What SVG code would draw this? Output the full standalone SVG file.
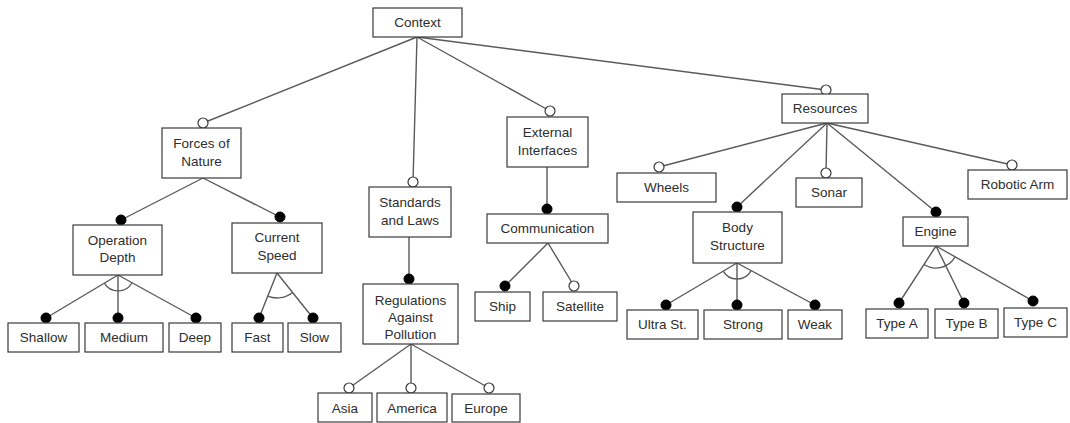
<svg xmlns="http://www.w3.org/2000/svg" width="1070" height="423" viewBox="0 0 1070 423">
  <style>
    .box { fill: #ffffff; stroke: #3a3a3a; stroke-width: 1.2; }
    .lbl { font-family: "Liberation Sans", Arial, sans-serif; font-size: 13.5px; fill: #2e2e2e; text-anchor: middle; }
    .edge { stroke: #5a5a5a; stroke-width: 1.4; fill: none; }
    .arc { stroke: #5a5a5a; stroke-width: 1.3; fill: none; }
    .opt { fill: #ffffff; stroke: #3a3a3a; stroke-width: 1.2; }
    .man { fill: #000000; stroke: #000000; stroke-width: 1; }
  </style>
  <rect width="1070" height="423" fill="#ffffff"/>

  <!-- connectors -->
  <g id="connectors">
    <line class="edge" x1="417" y1="37" x2="203" y2="123"/>
    <line class="edge" x1="417" y1="37" x2="413" y2="182"/>
    <line class="edge" x1="417" y1="37" x2="550" y2="111"/>
    <line class="edge" x1="417" y1="37" x2="826" y2="90"/>

    <line class="edge" x1="203" y1="178" x2="121" y2="220"/>
    <line class="edge" x1="203" y1="178" x2="280" y2="217"/>

    <line class="edge" x1="118" y1="275" x2="46" y2="318"/>
    <line class="edge" x1="118" y1="275" x2="118" y2="318"/>
    <line class="edge" x1="118" y1="275" x2="196" y2="318"/>
    <path class="arc" d="M104.3,283.2 A16,16 0 0 0 132.0,282.7"/>

    <line class="edge" x1="277" y1="273" x2="259" y2="318"/>
    <line class="edge" x1="277" y1="273" x2="313" y2="318"/>
    <path class="arc" d="M267.7,296.2 A25,25 0 0 0 292.6,292.5"/>

    <line class="edge" x1="409" y1="237" x2="409" y2="279"/>
    <line class="edge" x1="411" y1="344" x2="349" y2="388"/>
    <line class="edge" x1="411" y1="344" x2="411" y2="388"/>
    <line class="edge" x1="411" y1="344" x2="489" y2="388"/>

    <line class="edge" x1="547" y1="167" x2="547" y2="209"/>
    <line class="edge" x1="548" y1="243" x2="505" y2="286"/>
    <line class="edge" x1="548" y1="243" x2="574" y2="286"/>

    <line class="edge" x1="827" y1="123" x2="659" y2="167"/>
    <line class="edge" x1="827" y1="123" x2="737" y2="207"/>
    <line class="edge" x1="827" y1="123" x2="826" y2="173"/>
    <line class="edge" x1="827" y1="123" x2="936" y2="212"/>
    <line class="edge" x1="827" y1="123" x2="1012" y2="165"/>

    <line class="edge" x1="737" y1="263" x2="666" y2="305"/>
    <line class="edge" x1="737" y1="263" x2="737" y2="305"/>
    <line class="edge" x1="737" y1="263" x2="815" y2="305"/>
    <path class="arc" d="M723.2,271.1 A16,16 0 0 0 751.1,270.6"/>

    <line class="edge" x1="936" y1="246" x2="899" y2="303"/>
    <line class="edge" x1="936" y1="246" x2="964" y2="303"/>
    <line class="edge" x1="936" y1="246" x2="1033" y2="301"/>
    <path class="arc" d="M924.0,264.5 A22,22 0 0 0 955.1,256.9"/>
  </g>

  <!-- root -->
  <g id="context">
    <rect class="box" x="373" y="8" width="89" height="29"/>
    <text class="lbl" x="417.5" y="27">Context</text>
  </g>

  <!-- Forces of Nature branch -->
  <g id="forces-of-nature">
    <circle class="opt" cx="203" cy="123" r="5"/>
    <rect class="box" x="162" y="128" width="79" height="50"/>
    <text class="lbl" x="201.5" y="148">Forces of</text>
    <text class="lbl" x="201.5" y="166">Nature</text>
  </g>
  <g id="operation-depth">
    <circle class="man" cx="121" cy="220" r="5"/>
    <rect class="box" x="73" y="225" width="89" height="50"/>
    <text class="lbl" x="117.5" y="244.5">Operation</text>
    <text class="lbl" x="117.5" y="262">Depth</text>
  </g>
  <g id="current-speed">
    <circle class="man" cx="280" cy="217" r="5"/>
    <rect class="box" x="232" y="223" width="90" height="50"/>
    <text class="lbl" x="277" y="242">Current</text>
    <text class="lbl" x="277" y="260">Speed</text>
  </g>
  <g id="shallow">
    <circle class="man" cx="46" cy="318" r="5"/>
    <rect class="box" x="8" y="323" width="71" height="29"/>
    <text class="lbl" x="43.5" y="342">Shallow</text>
  </g>
  <g id="medium">
    <circle class="man" cx="118" cy="318" r="5"/>
    <rect class="box" x="85" y="323" width="78" height="29"/>
    <text class="lbl" x="124" y="342">Medium</text>
  </g>
  <g id="deep">
    <circle class="man" cx="196" cy="318" r="5"/>
    <rect class="box" x="169" y="323" width="52" height="29"/>
    <text class="lbl" x="195" y="342">Deep</text>
  </g>
  <g id="fast">
    <circle class="man" cx="259" cy="318" r="5"/>
    <rect class="box" x="232" y="323" width="51" height="29"/>
    <text class="lbl" x="257.5" y="342">Fast</text>
  </g>
  <g id="slow">
    <circle class="man" cx="313" cy="318" r="5"/>
    <rect class="box" x="288" y="323" width="53" height="29"/>
    <text class="lbl" x="314.5" y="342">Slow</text>
  </g>

  <!-- Standards and Laws branch -->
  <g id="standards-and-laws">
    <circle class="opt" cx="413" cy="182" r="5"/>
    <rect class="box" x="369" y="187" width="82" height="50"/>
    <text class="lbl" x="410" y="207">Standards</text>
    <text class="lbl" x="410" y="224.5">and Laws</text>
  </g>
  <g id="regulations">
    <circle class="man" cx="409" cy="279" r="5"/>
    <rect class="box" x="363" y="284" width="95" height="60"/>
    <text class="lbl" x="410.5" y="304.5">Regulations</text>
    <text class="lbl" x="410.5" y="321.5">Against</text>
    <text class="lbl" x="410.5" y="338.5">Pollution</text>
  </g>
  <g id="asia">
    <circle class="opt" cx="349" cy="388" r="5"/>
    <rect class="box" x="318" y="393" width="54" height="29"/>
    <text class="lbl" x="345" y="412.5">Asia</text>
  </g>
  <g id="america">
    <circle class="opt" cx="411" cy="388" r="5"/>
    <rect class="box" x="377" y="393" width="70" height="29"/>
    <text class="lbl" x="412" y="412.5">America</text>
  </g>
  <g id="europe">
    <circle class="opt" cx="489" cy="388" r="5"/>
    <rect class="box" x="452" y="394" width="68" height="28"/>
    <text class="lbl" x="486" y="413">Europe</text>
  </g>

  <!-- External Interfaces branch -->
  <g id="external-interfaces">
    <circle class="opt" cx="550" cy="111" r="5"/>
    <rect class="box" x="507" y="117" width="81" height="50"/>
    <text class="lbl" x="547.5" y="136.5">External</text>
    <text class="lbl" x="547.5" y="154.5">Interfaces</text>
  </g>
  <g id="communication">
    <circle class="man" cx="547" cy="209" r="5"/>
    <rect class="box" x="487" y="214" width="121" height="29"/>
    <text class="lbl" x="547.5" y="233">Communication</text>
  </g>
  <g id="ship">
    <circle class="man" cx="505" cy="286" r="5"/>
    <rect class="box" x="475" y="292" width="55" height="29"/>
    <text class="lbl" x="502.5" y="311">Ship</text>
  </g>
  <g id="satellite">
    <circle class="opt" cx="574" cy="286" r="5"/>
    <rect class="box" x="543" y="292" width="74" height="29"/>
    <text class="lbl" x="580" y="311">Satellite</text>
  </g>

  <!-- Resources branch -->
  <g id="resources">
    <circle class="opt" cx="826" cy="90" r="5"/>
    <rect class="box" x="782" y="94" width="86" height="29"/>
    <text class="lbl" x="825" y="113">Resources</text>
  </g>
  <g id="wheels">
    <circle class="opt" cx="659" cy="167" r="5"/>
    <rect class="box" x="617" y="173" width="99" height="29"/>
    <text class="lbl" x="666.5" y="192">Wheels</text>
  </g>
  <g id="body-structure">
    <circle class="man" cx="737" cy="207" r="5"/>
    <rect class="box" x="693" y="212" width="89" height="51"/>
    <text class="lbl" x="737.5" y="232">Body</text>
    <text class="lbl" x="737.5" y="249.5">Structure</text>
  </g>
  <g id="sonar">
    <circle class="opt" cx="826" cy="173" r="5"/>
    <rect class="box" x="796" y="178" width="66" height="29"/>
    <text class="lbl" x="829" y="197">Sonar</text>
  </g>
  <g id="engine">
    <circle class="man" cx="936" cy="212" r="5"/>
    <rect class="box" x="903" y="217" width="65" height="29"/>
    <text class="lbl" x="935.5" y="236">Engine</text>
  </g>
  <g id="robotic-arm">
    <circle class="opt" cx="1012" cy="165" r="5"/>
    <rect class="box" x="968" y="170" width="99" height="29"/>
    <text class="lbl" x="1017.5" y="189">Robotic Arm</text>
  </g>
  <g id="ultra-st">
    <circle class="man" cx="666" cy="305" r="5"/>
    <rect class="box" x="627" y="310" width="71" height="29"/>
    <text class="lbl" x="662.5" y="328.5">Ultra St.</text>
  </g>
  <g id="strong">
    <circle class="man" cx="737" cy="305" r="5"/>
    <rect class="box" x="704" y="310" width="78" height="29"/>
    <text class="lbl" x="743" y="328.5">Strong</text>
  </g>
  <g id="weak">
    <circle class="man" cx="815" cy="305" r="5"/>
    <rect class="box" x="788" y="310" width="54" height="29"/>
    <text class="lbl" x="815" y="328.5">Weak</text>
  </g>
  <g id="type-a">
    <circle class="man" cx="899" cy="303" r="5"/>
    <rect class="box" x="866" y="309" width="62" height="29"/>
    <text class="lbl" x="897" y="327.5">Type A</text>
  </g>
  <g id="type-b">
    <circle class="man" cx="964" cy="303" r="5"/>
    <rect class="box" x="935" y="309" width="63" height="29"/>
    <text class="lbl" x="966.5" y="327.5">Type B</text>
  </g>
  <g id="type-c">
    <circle class="man" cx="1033" cy="301" r="5"/>
    <rect class="box" x="1004" y="308" width="63" height="29"/>
    <text class="lbl" x="1035.5" y="326.5">Type C</text>
  </g>
</svg>
